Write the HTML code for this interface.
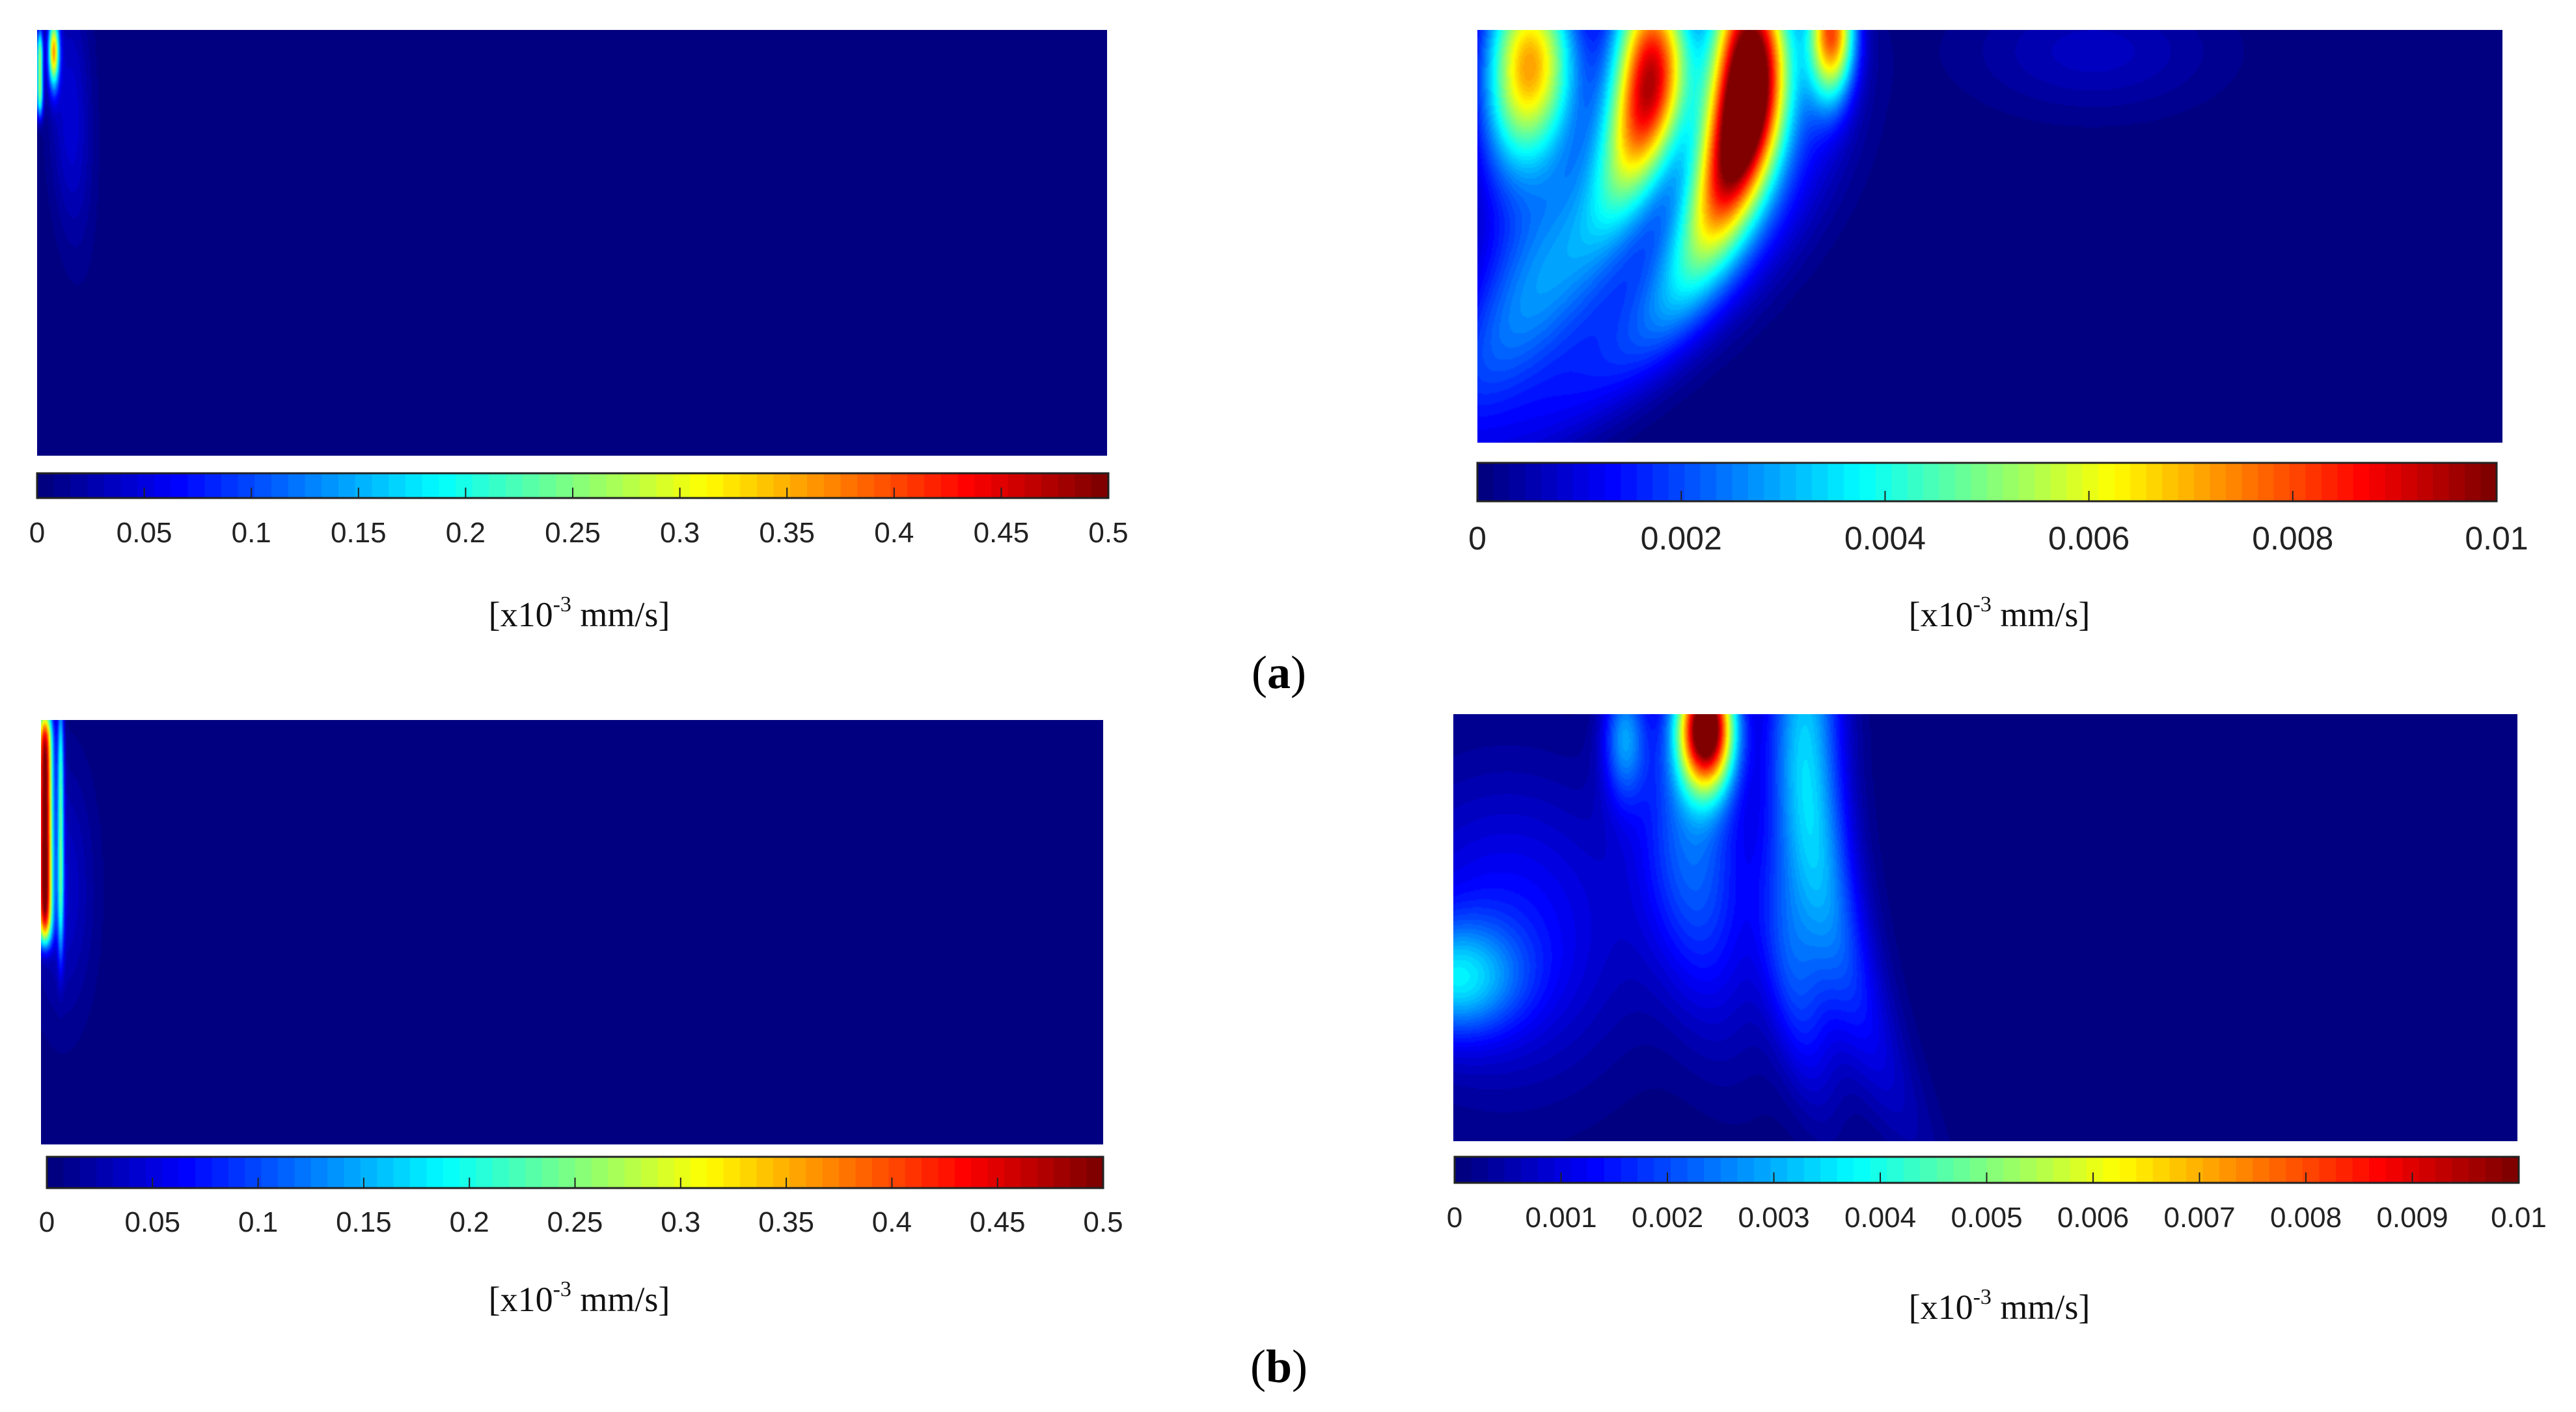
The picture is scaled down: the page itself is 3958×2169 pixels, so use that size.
<!DOCTYPE html>
<html><head><meta charset="utf-8"><style>
html,body{margin:0;padding:0;background:#fff;}
body{width:3958px;height:2169px;position:relative;overflow:hidden;}
canvas.field{position:absolute;}
.tick{position:absolute;font-family:"Liberation Sans",sans-serif;color:#222;transform:translateX(-50%);white-space:nowrap;}
.unit{position:absolute;font-family:"Liberation Serif",serif;font-size:54px;color:#111;transform:translateX(-50%);white-space:nowrap;}
.unit sup{font-size:34px;position:relative;top:-4px;}
.sub{position:absolute;font-family:"Liberation Serif",serif;font-size:72px;color:#000;transform:translateX(-50%);}
svg.cb{position:absolute;overflow:visible;}
</style></head><body>
<div id="root"></div>
<div class="sub" style="left:1965px;top:992px;">(<b>a</b>)</div>
<div class="sub" style="left:1965px;top:2058px;">(<b>b</b>)</div>
<script>
// Panel A-left (max 0.5)
const aL_x0=[0.002,0.015,0.03];
const aL_bend=[0,0,0.02];
const aL_w=[0.003,0.005,0.02];
const aL_peak=[0.26,0.34,0.045];
const aL_vc=[0.1,0.05,0.2];
const aL_len=[0.1,0.08,0.3];
const aL_pow=[4,2,2];
// Panel A-right (max 0.01)
const aR_x0=[0.05,0.17,0.265,0.345,0.30,0.15,0.6,0.08];
const aR_bend=[-0.1,-0.17,-0.15,-0.05,-0.25,-0.2,0,-0.1];
const aR_w=[0.042,0.036,0.036,0.022,0.07,0.07,0.12,0.06];
const aR_peak=[0.0068,0.009,0.0118,0.0075,0.0022,0.0018,0.0007,0.0012];
const aR_vc=[0.08,0.12,0.16,0.0,0.5,0.6,0.05,0.5];
const aR_len=[0.23,0.27,0.33,0.16,0.5,0.4,0.15,0.4];
const aR_pow=[2,2,2,2,2,2,2,2];
// Panel B-left (max 0.5)
const bL_x0=[0.003,0.018,0.02];
const bL_bend=[0,0,0];
const bL_w=[0.007,0.003,0.03];
const bL_peak=[0.5,0.2,0.04];
const bL_vc=[0.25,0.25,0.4];
const bL_len=[0.27,0.3,0.3];
const bL_pow=[8,4,2];
// Panel B-right (max 0.01)
const bR_x0=[0.237,0.33,0.22,0.0,0.05,0.16,0.3];
const bR_bend=[0,0.1,0.05,0,0,0,0.05];
const bR_w=[0.025,0.035,0.05,0.06,0.12,0.02,0.03];
const bR_peak=[0.0105,0.0034,0.0022,0.0026,0.0014,0.0024,0.0018];
const bR_vc=[0.03,0.15,0.3,0.62,0.5,0.05,0.6];
const bR_len=[0.14,0.6,0.4,0.13,0.35,0.15,0.3];
const bR_pow=[2,2,2,2,2,2,2];
// colorbar ticks
const ticksHalf=["0","0.05","0.1","0.15","0.2","0.25","0.3","0.35","0.4","0.45","0.5"];
const ticksA=["0","0.002","0.004","0.006","0.008","0.01"];
const ticksB=["0","0.001","0.002","0.003","0.004","0.005","0.006","0.007","0.008","0.009","0.01"];

function jet(t){t=Math.max(0,Math.min(1,t));
 const c=x=>Math.round(255*Math.max(0,Math.min(1,1.5-Math.abs(x))));
 return [c(4*t-3),c(4*t-2),c(4*t-1)];}
const root=document.getElementById('root');
function field(name,x,y,w,h,max,S){
 const cv=document.createElement('canvas');
 
 
 cv.className='field';
 const W=Math.round(w/2),H=Math.round(h/2);
 cv.width=W;cv.height=H;
 cv.style.left=x+'px';cv.style.top=y+'px';cv.style.width=w+'px';cv.style.height=h+'px';
 const ctx=cv.getContext('2d');const img=ctx.createImageData(W,H);
 for(let j=0;j<H;j++){const v=j/H;
  for(let i=0;i<W;i++){const u=i/W;let f=0;
   for(let k=0;k<S.x0.length;k++){
    const cx=S.x0[k]+S.bend[k]*v*v;const d=(u-cx)/S.w[k];
    const a=Math.pow(Math.abs((v-S.vc[k])/S.len[k]),S.pow[k]);
    f+=S.peak[k]*Math.exp(-a)*Math.exp(-d*d);}
   let t=f/max; t=Math.floor(Math.min(1,t)*63.99)/63;
   const c=jet(t);const p=(j*W+i)*4;
   img.data[p]=c[0];img.data[p+1]=c[1];img.data[p+2]=c[2];img.data[p+3]=255;}}
 ctx.putImageData(img,0,0);root.appendChild(cv);}
function colorbar(name,x,y,w,h,ticks,fs,ly){
 const ns='http://www.w3.org/2000/svg';
 const s=document.createElementNS(ns,'svg');
 
 
 s.setAttribute('class','cb');s.setAttribute('width',w);s.setAttribute('height',h);
 s.style.left=x+'px';s.style.top=y+'px';
 for(let i=0;i<64;i++){const r=document.createElementNS(ns,'rect');
  r.setAttribute('x',i*w/64);r.setAttribute('y',0);r.setAttribute('width',w/64+0.6);r.setAttribute('height',h);
  const c=jet(i/63);r.setAttribute('fill','rgb('+c+')');s.appendChild(r);}
 const n=ticks.length-1;
 for(let i=1;i<n;i++){const l=document.createElementNS(ns,'line');const tx=i*w/n;
  l.setAttribute('x1',tx);l.setAttribute('x2',tx);l.setAttribute('y1',h-16);l.setAttribute('y2',h);
  l.setAttribute('stroke','#222');l.setAttribute('stroke-width','2');s.appendChild(l);}
 const b=document.createElementNS(ns,'rect');b.setAttribute('x',0);b.setAttribute('y',0);b.setAttribute('width',w);b.setAttribute('height',h);
 b.setAttribute('fill','none');b.setAttribute('stroke','#222');b.setAttribute('stroke-width','3');s.appendChild(b);
 root.appendChild(s);
 for(let i=0;i<=n;i++){const d=document.createElement('div');
  
  
  d.className='tick';d.textContent=ticks[i];d.style.fontSize=fs+'px';
  d.style.left=(x+i*w/n)+'px';d.style.top=(ly-fs*0.6)+'px';root.appendChild(d);}}
function unit(cx,cy){const d=document.createElement('div');
 
 
 d.className='unit';d.innerHTML='[x10<sup>-3</sup> mm/s]';d.style.left=cx+'px';d.style.top=(cy-32)+'px';root.appendChild(d);}
field('field-a-left',57,46,1644,654,0.5,{x0:aL_x0,bend:aL_bend,w:aL_w,peak:aL_peak,vc:aL_vc,len:aL_len,pow:aL_pow});
field('field-a-right',2270,46,1575,634,0.01,{x0:aR_x0,bend:aR_bend,w:aR_w,peak:aR_peak,vc:aR_vc,len:aR_len,pow:aR_pow});
field('field-b-left',63,1106,1632,652,0.5,{x0:bL_x0,bend:bL_bend,w:bL_w,peak:bL_peak,vc:bL_vc,len:bL_len,pow:bL_pow});
field('field-b-right',2233,1097,1635,656,0.01,{x0:bR_x0,bend:bR_bend,w:bR_w,peak:bR_peak,vc:bR_vc,len:bR_len,pow:bR_pow});
colorbar('colorbar-a-left',57,727,1646,38,ticksHalf,44,820);
colorbar('colorbar-a-right',2270,711,1566,59,ticksA,50,828);
colorbar('colorbar-b-left',72,1777,1623,48,ticksHalf,44,1879);
colorbar('colorbar-b-right',2235,1777,1635,40,ticksB,44,1872);
unit(890,945);unit(3072,945);unit(890,1997);unit(3072,2009);
</script>
</body></html>
